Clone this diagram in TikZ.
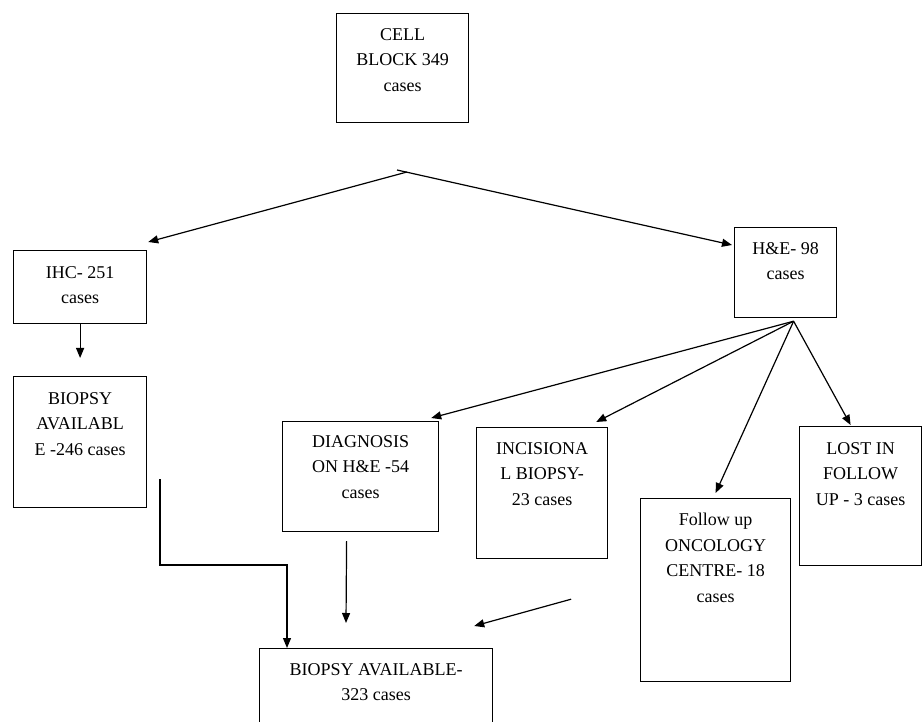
\documentclass[tikz,border=0pt]{standalone}
\usepackage{fontspec}
\setmainfont{Liberation Serif}
\usetikzlibrary{arrows.meta,calc,positioning}

\tikzset{
  box/.style={draw,line width=1.2pt,anchor=north west,inner sep=0pt},
  txt/.style={anchor=north,align=center,inner sep=0pt,font=\fontsize{18}{25.5}\selectfont},
  arr/.style={line width=1.2pt,-{Triangle[length=10pt,width=8pt]}}
}

\begin{document}
\begin{tikzpicture}[x=1pt,y=-1pt]
  \useasboundingbox (0,0) rectangle (922,722);
  \clip (0,0) rectangle (922,722);
  % boxes
  \node[box,minimum width=132,minimum height=109] (cell) at (336,13) {};
  \node[box,minimum width=133,minimum height=73] (ihc) at (13,250) {};
  \node[box,minimum width=133,minimum height=131] (bio) at (13,376) {};
  \node[box,minimum width=102,minimum height=90] (he) at (734,227) {};
  \node[box,minimum width=156,minimum height=110] (diag) at (282,421) {};
  \node[box,minimum width=131,minimum height=131] (incis) at (476,427) {};
  \node[box,minimum width=150,minimum height=183] (follow) at (640,498) {};
  \node[box,minimum width=122,minimum height=139] (lost) at (799,426) {};
  \node[box,minimum width=233,minimum height=100] (avail) at (259,648) {};
  % texts
  \node[txt] (cellT) at ($(cell.north)+(0,15)$) {CELL\\BLOCK 349\\cases};
  \node[txt] (ihcT) at ($(ihc.north)+(0,16)$) {IHC- 251\\cases};
  \node[txt] (bioT) at ($(bio.north)+(0,16)$) {BIOPSY\\AVAILABL\\E -246 cases};
  \node[txt] (heT) at ($(he.north)+(0,15)$) {H\&E- 98\\cases};
  \node[txt] (diagT) at ($(diag.north)+(0,14)$) {DIAGNOSIS\\ON H\&E -54\\cases};
  \node[txt] (incisT) at ($(incis.north)+(0,15)$) {INCISIONA\\L BIOPSY-\\23 cases};
  \node[txt] (followT) at ($(follow.north)+(0,15)$) {Follow up\\ONCOLOGY\\CENTRE- 18\\cases};
  \node[txt] (lostT) at ($(lost.north)+(0,16)$) {LOST IN\\FOLLOW\\UP - 3 cases};
  \node[txt] (availT) at ($(avail.north)+(0,15)$) {BIOPSY AVAILABLE-\\323 cases};
  % split points
  \coordinate (splitR) at (397,170);
  \coordinate (splitL) at (407,172);
  \coordinate (fan) at ($(he.south)+(8,3)$);
  \coordinate (bioOut) at (160,479);
  % connectors
  \draw[arr] (splitL) -- ($(ihc.north east)+(1,-8)$);
  \draw[arr] (splitR) -- ($(he.north west)+(-2,18)$);
  \draw[arr] (ihc.south) -- ($(bio.north)+(0,-18)$);
  \draw[arr] (fan) -- ($(diag.north east)+(-8,-3)$);
  \draw[arr] (fan) -- ($(incis.north east)+(-12,-5)$);
  \draw[arr] (fan) -- ($(follow.north)+(0,-5)$);
  \draw[arr] (fan) -- ($(lost.north)+(-10,-1)$);
  \draw[arr] (bioOut) -- ++(0,86) -| ($(avail.north west)+(28,0)$);
  \draw[arr] ($(diag.south)+(-14,9)$) -- ($(avail.north west)+(87,-25)$);
  \draw[arr] ($(incis.south)+(29,40)$) -- ($(avail.north east)+(-19,-22)$);
\end{tikzpicture}
\end{document}
